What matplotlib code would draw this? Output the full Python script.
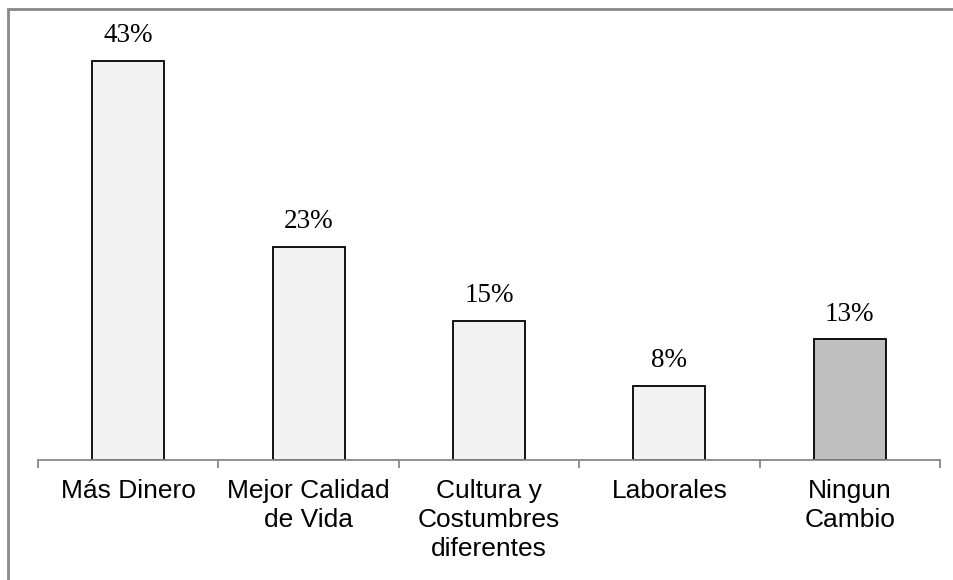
import matplotlib.pyplot as plt
from matplotlib.patches import Rectangle

categories = ['Más Dinero', 'Mejor Calidad\nde Vida', 'Cultura y\nCostumbres\ndiferentes',
              'Laborales', 'Ningun\nCambio']
values = [43, 23, 15, 8, 13]
colors = ['#f2f2f2', '#f2f2f2', '#f2f2f2', '#f2f2f2', '#bfbfbf']

fig = plt.figure(figsize=(9.54, 5.8), dpi=100)
ax = fig.add_axes([38 / 954, 120 / 580, 902 / 954, 417.6 / 580])

x = range(len(categories))
bars = ax.bar(x, values, width=0.4, color=colors, edgecolor='black', linewidth=1.3, zorder=2)
for b, v in zip(bars, values):
    ax.annotate(f'{v}%', (b.get_x() + b.get_width() / 2, v), xytext=(0, 9),
                textcoords='offset points', ha='center', va='bottom',
                fontsize=19.5, family='Liberation Serif')

ax.set_xlim(-0.5, len(categories) - 0.5)
ax.set_ylim(0, 45)
ax.set_xticks(list(x))
ax.set_xticklabels(categories, fontsize=19, family='Liberation Sans', va='top', linespacing=1.25)
ax.set_xticks([i - 0.5 for i in range(len(categories) + 1)], minor=True)
ax.tick_params(axis='x', which='major', length=0, pad=14)
ax.tick_params(axis='x', which='minor', length=6, color='#888888', width=1.3)
ax.set_yticks([])
for s in ['top', 'right', 'left']:
    ax.spines[s].set_visible(False)
ax.spines['bottom'].set_color('#888888')
ax.spines['bottom'].set_linewidth(1.3)

# outer border of the chart area
fig.patches.append(Rectangle((8.5 / 954, -0.1), 1.2, 1 - 8.5 / 580 + 0.1, transform=fig.transFigure,
                             fill=False, edgecolor='#888888', linewidth=2))

fig.savefig('out.png', dpi=100)
